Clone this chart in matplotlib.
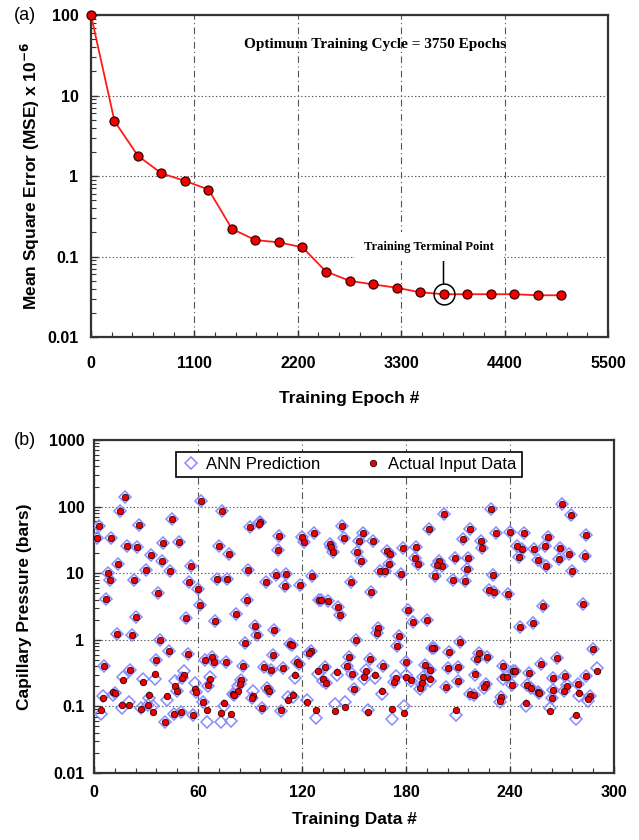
import matplotlib
matplotlib.use('Agg')
import matplotlib.pyplot as plt
from matplotlib.ticker import MultipleLocator, LogLocator, FixedLocator, NullFormatter

plt.rcParams['font.family'] = ['Liberation Sans', 'DejaVu Sans']

# (a) training curve
epochs = [0, 250, 500, 750, 1000, 1250, 1500, 1750, 2000, 2250, 2500,
          2750, 3000, 3250, 3500, 3750, 4000, 4250, 4500, 4750, 5000]
mse = [100, 4.8, 1.78, 1.08, 0.87, 0.68, 0.22, 0.16, 0.15, 0.13, 0.065,
       0.05, 0.045, 0.041, 0.036, 0.034, 0.034, 0.034, 0.034, 0.033, 0.033]
terminal_epoch = 3750
epoch_ticks = [0, 1100, 2200, 3300, 4400, 5500]
mse_ticks = [0.01, 0.1, 1, 10, 100]
mse_tick_labels = ['0.01', '0.1', '1', '10', '100']

# (b) capillary pressure, actual vs ANN
data_no = [
    # 0-60
    18, 15, 3, 26, 45, 2, 10, 19, 25, 40, 49, 33, 39, 14, 30, 44, 56, 8, 9, 23,
    55, 37, 7, 24, 53, 13, 22, 38, 43, 54, 6, 36, 21, 17, 28, 35, 52, 51, 47, 48,
    58, 59, 5, 11, 12, 32, 42, 16, 20, 27, 31, 34, 4, 41, 46, 50, 57,
    # 60-120
    62, 74, 90, 96, 95, 107, 72, 78, 106, 89, 71, 77, 99, 105, 111, 110, 119, 60, 61, 88,
    82, 70, 93, 94, 104, 87, 113, 114, 64, 68, 69, 76, 86, 103, 98, 102, 109, 117, 118, 116,
    67, 66, 85, 84, 83, 80, 81, 92, 91, 100, 101, 115, 112, 63, 65, 75, 73, 79, 97, 108,
    # 120-180
    120, 121, 143, 127, 144, 155, 153, 161, 136, 137, 138, 152, 154, 169, 171, 178, 170, 165, 168, 177,
    126, 148, 160, 130, 131, 135, 141, 142, 164, 163, 151, 176, 175, 125, 124, 147, 146, 159, 167, 133,
    129, 140, 149, 157, 162, 156, 132, 134, 174, 173, 150, 166, 123, 128, 139, 145, 158, 172, 179,
    # 180-240
    202, 229, 193, 217, 232, 213, 223, 224, 186, 185, 187, 199, 201, 198, 208, 216, 215, 197, 207, 214,
    230, 228, 231, 239, 181, 184, 192, 196, 195, 211, 205, 222, 221, 227, 180, 191, 194, 204, 210, 220,
    236, 180, 183, 190, 189, 194, 188, 203, 210, 226, 225, 236, 238, 217, 219, 235, 234, 209,
    # 240-300
    270, 275, 240, 248, 262, 284, 244, 247, 260, 254, 269, 274, 245, 256, 268, 283, 261, 276, 259, 282,
    246, 253, 288, 267, 258, 242, 243, 251, 272, 265, 284, 290, 241, 250, 252, 256, 257, 273, 279, 265,
    271, 264, 280, 286, 285, 249, 263, 278,
]
actual_pc = [
    138, 87, 52, 53, 65, 33.5, 33.5, 26, 25, 28, 29.5, 19, 15.5, 13.6, 11.2, 10.6, 12.6, 9.9, 7.8, 7.9,
    7.5, 5.1, 4.1, 2.2, 2.1, 1.22, 1.17, 1.0, 0.68, 0.62, 0.41, 0.50, 0.35, 0.25, 0.23, 0.31, 0.30, 0.27, 0.20, 0.168,
    0.18, 0.164, 0.133, 0.164, 0.16, 0.15, 0.145, 0.104, 0.104, 0.092, 0.104, 0.082, 0.087, 0.058, 0.078, 0.082, 0.075,
    123, 87, 50, 58, 55, 36, 25.7, 19.3, 22, 11.2, 8.2, 8.2, 7.5, 9.4, 9.8, 6.5, 6.7, 5.8, 3.35, 3.9,
    2.43, 1.93, 1.62, 1.19, 1.38, 0.91, 0.86, 0.83, 0.49, 0.56, 0.47, 0.46, 0.41, 0.6, 0.385, 0.35, 0.376, 0.46, 0.43, 0.30,
    0.26, 0.21, 0.25, 0.216, 0.172, 0.153, 0.15, 0.145, 0.133, 0.19, 0.168, 0.146, 0.126, 0.116, 0.089, 0.112, 0.079, 0.077, 0.094, 0.089,
    35.5, 29, 51, 40, 34.3, 40, 30, 30, 27.5, 25, 20.7, 21, 15, 21.6, 19.7, 24.3, 13.6, 10.6, 10.6, 9.8,
    9.2, 7.5, 5.3, 4.0, 4.0, 3.85, 3.1, 2.37, 1.5, 1.26, 1.0, 1.15, 0.81, 0.69, 0.63, 0.56, 0.4, 0.51, 0.41, 0.385,
    0.335, 0.327, 0.305, 0.335, 0.30, 0.28, 0.26, 0.224, 0.27, 0.23, 0.18, 0.168, 0.115, 0.087, 0.086, 0.097, 0.081, 0.091, 0.079,
    78, 91, 46, 46, 40, 32.4, 30.5, 24.3, 25, 16.8, 13.8, 15.3, 12.6, 13.3, 16.8, 16.8, 11.5, 9.1, 7.8, 7.7,
    9.4, 5.6, 5.3, 4.9, 2.8, 1.84, 2.0, 0.75, 0.76, 0.92, 0.65, 0.63, 0.52, 0.55, 0.46, 0.42, 0.355, 0.376, 0.385, 0.31,
    0.4, 0.28, 0.245, 0.28, 0.224, 0.26, 0.19, 0.195, 0.237, 0.22, 0.197, 0.275, 0.275, 0.155, 0.15, 0.138, 0.122, 0.087,
    108, 75, 41, 40.7, 34.7, 37.6, 25.7, 22.9, 26, 23.2, 24.3, 19.3, 17.8, 15.8, 16.2, 18.4, 12.6, 10.6, 3.27, 3.4,
    1.58, 1.78, 0.73, 0.53, 0.43, 0.335, 0.34, 0.32, 0.29, 0.27, 0.29, 0.34, 0.207, 0.207, 0.19, 0.164, 0.157, 0.204, 0.216, 0.174,
    0.168, 0.133, 0.158, 0.145, 0.129, 0.112, 0.084, 0.074,
]
predicted_pc = [
    138, 87, 52, 53, 65, 33.5, 33.5, 26, 25, 28, 29.5, 19, 15.5, 13.6, 11.2, 10.6, 12.6, 9.9, 7.8, 7.9,
    7.5, 5.1, 4.1, 2.2, 2.1, 1.22, 1.17, 1.0, 0.68, 0.62, 0.41, 0.50, 0.35, 0.28, 0.26, 0.26, 0.335, 0.27, 0.237, 0.168,
    0.224, 0.164, 0.145, 0.15, 0.16, 0.133, 0.126, 0.094, 0.115, 0.094, 0.106, 0.10, 0.077, 0.058, 0.078, 0.082, 0.075,
    123, 87, 50, 58, 56, 36, 25.7, 19.3, 22, 11.2, 8.2, 8.2, 7.5, 9.4, 9.8, 6.5, 6.7, 5.8, 3.35, 3.9,
    2.43, 1.93, 1.62, 1.19, 1.38, 0.91, 0.86, 0.83, 0.49, 0.56, 0.47, 0.46, 0.41, 0.6, 0.385, 0.35, 0.376, 0.46, 0.43, 0.27,
    0.28, 0.20, 0.25, 0.216, 0.20, 0.153, 0.15, 0.17, 0.133, 0.19, 0.168, 0.14, 0.14, 0.116, 0.058, 0.10, 0.058, 0.06, 0.094, 0.085,
    35.5, 29, 51, 40, 34.3, 40, 30, 30, 27.5, 25, 20.7, 21, 15, 21.6, 19.7, 24.3, 13.6, 10.6, 10.6, 9.8,
    9.2, 7.5, 5.3, 4.0, 4.0, 3.85, 3.1, 2.37, 1.5, 1.26, 1.0, 1.15, 0.81, 0.69, 0.63, 0.56, 0.4, 0.51, 0.41, 0.385,
    0.31, 0.30, 0.305, 0.35, 0.27, 0.255, 0.24, 0.224, 0.29, 0.23, 0.18, 0.155, 0.126, 0.068, 0.11, 0.115, 0.089, 0.064, 0.10,
    78, 91, 46, 46, 40, 32.4, 30.5, 24.3, 25, 16.8, 13.8, 15.3, 12.6, 13.3, 16.8, 16.8, 11.5, 9.1, 7.8, 7.7,
    9.4, 5.6, 5.3, 4.9, 2.8, 1.84, 2.0, 0.75, 0.76, 0.92, 0.65, 0.63, 0.52, 0.55, 0.46, 0.42, 0.355, 0.376, 0.385, 0.30,
    0.4, 0.30, 0.24, 0.28, 0.21, 0.24, 0.18, 0.195, 0.237, 0.22, 0.19, 0.26, 0.275, 0.155, 0.15, 0.138, 0.115, 0.075,
    108, 75, 41, 40.7, 34.7, 37.6, 25.7, 22.9, 26, 23.2, 24.3, 19.3, 17.8, 15.8, 16.2, 18.4, 12.6, 10.6, 3.27, 3.4,
    1.58, 1.78, 0.73, 0.53, 0.43, 0.335, 0.34, 0.32, 0.29, 0.27, 0.29, 0.38, 0.207, 0.207, 0.19, 0.164, 0.157, 0.21, 0.216, 0.174,
    0.168, 0.133, 0.145, 0.145, 0.12, 0.10, 0.095, 0.064,
]
data_ticks = [0, 60, 120, 180, 240, 300]
pc_ticks = [0.01, 0.1, 1, 10, 100, 1000]
pc_tick_labels = ['0.01', '0.1', '1', '10', '100', '1000']

frame_col = '#333333'
grid_col = '#555555'


def style_axes(ax, xticks, yticks, ylabels, xminor, xpad, ypad):
    ax.set_yscale('log')
    ax.set_xlim(xticks[0], xticks[-1])
    ax.set_ylim(yticks[0], yticks[-1])
    ax.xaxis.set_major_locator(FixedLocator(xticks))
    ax.xaxis.set_minor_locator(MultipleLocator(xminor))
    ax.yaxis.set_major_locator(FixedLocator(yticks))
    ax.yaxis.set_minor_locator(LogLocator(base=10, subs=range(2, 10)))
    ax.yaxis.set_minor_formatter(NullFormatter())
    ax.set_xticklabels([str(t) for t in xticks], fontweight='bold', fontsize=11.5)
    ax.set_yticklabels(ylabels, fontweight='bold', fontsize=11.5)
    ax.tick_params(which='both', direction='in', top=False, right=False, color=frame_col)
    ax.tick_params(which='major', length=5, width=1.0)
    ax.tick_params(which='minor', length=3.5, width=0.8)
    ax.tick_params(axis='x', which='both', pad=xpad)
    ax.tick_params(axis='y', which='both', pad=ypad)
    ax.grid(axis='y', which='major', linestyle=(0, (1.2, 2)), color=grid_col, lw=0.8)
    ax.grid(axis='x', which='major', linestyle=(0, (6, 3, 1, 3)), color=grid_col, lw=0.8)
    ax.set_axisbelow(True)
    for s in ax.spines.values():
        s.set_linewidth(1.6)
        s.set_color(frame_col)


fig = plt.figure(figsize=(6.39, 8.4), dpi=100)

# ---- (a)
ax1 = fig.add_axes([0.1424, 0.5988, 0.8091, 0.3833])
ax1.plot(epochs, mse, color='#ff1a1a', lw=1.3, marker='o', ms=6.5,
         mfc='#ee0000', mec='#3a0000', mew=0.9, zorder=4, clip_on=False)
style_axes(ax1, epoch_ticks, mse_ticks, mse_tick_labels, 220, 14, 9)
ax1.set_xlabel('Training Epoch #', fontsize=12.5, fontweight='bold', labelpad=14)
ax1.set_ylabel('Mean Square Error (MSE) x 10$^{\\mathbf{-6}}$', fontsize=12.5,
               fontweight='bold', labelpad=4)
ax1.text(0.55, 0.91, 'Optimum Training Cycle = 3750 Epochs', transform=ax1.transAxes,
         ha='center', va='center', fontsize=11, fontweight='bold',
         family=['Liberation Serif', 'DejaVu Serif'])

term_mse = mse[epochs.index(terminal_epoch)]
ax1.plot([terminal_epoch], [term_mse], marker='o', ms=15, mfc='none', mec='black',
         mew=1.1, zorder=5)
ax1.annotate('', xy=(terminal_epoch, term_mse), xytext=(terminal_epoch, 0.09),
             arrowprops=dict(arrowstyle='-', color='black', lw=1.1, shrinkA=0, shrinkB=8))
ax1.text(3590, 0.132, 'Training Terminal Point', ha='center', va='center', fontsize=9,
         fontweight='bold', family=['Liberation Serif', 'DejaVu Serif'],
         bbox=dict(facecolor='white', edgecolor='none', pad=6), zorder=3)
fig.text(0.022, 0.982, '(a)', fontsize=13, va='center', ha='left')

# ---- (b)
ax2 = fig.add_axes([0.1471, 0.0798, 0.8138, 0.3964])
ax2.plot(data_no, predicted_pc, linestyle='none', marker='D', ms=6.2, mfc='none',
         mec='#8a8aff', mew=1.1, label='ANN Prediction', zorder=3)
ax2.plot(data_no, actual_pc, linestyle='none', marker='o', ms=4.6, mfc='#ee0000',
         mec='#300000', mew=0.6, label='Actual Input Data', zorder=4)
style_axes(ax2, data_ticks, pc_ticks, pc_tick_labels, 12, 9, 7)
ax2.set_xlabel('Training Data #', fontsize=12.5, fontweight='bold', labelpad=8)
ax2.set_ylabel('Capillary Pressure (bars)', fontsize=12.5, fontweight='bold', labelpad=12)
leg = ax2.legend(loc='upper center', bbox_to_anchor=(0.49, 0.99), ncol=2, fontsize=12,
                 frameon=True, fancybox=False, edgecolor='black', framealpha=1,
                 handletextpad=0.3, columnspacing=2.6, borderpad=0.3, handlelength=1.2)
leg.get_frame().set_linewidth(1.2)
fig.text(0.022, 0.476, '(b)', fontsize=13, va='center', ha='left')

fig.savefig('out.png', dpi=100)
